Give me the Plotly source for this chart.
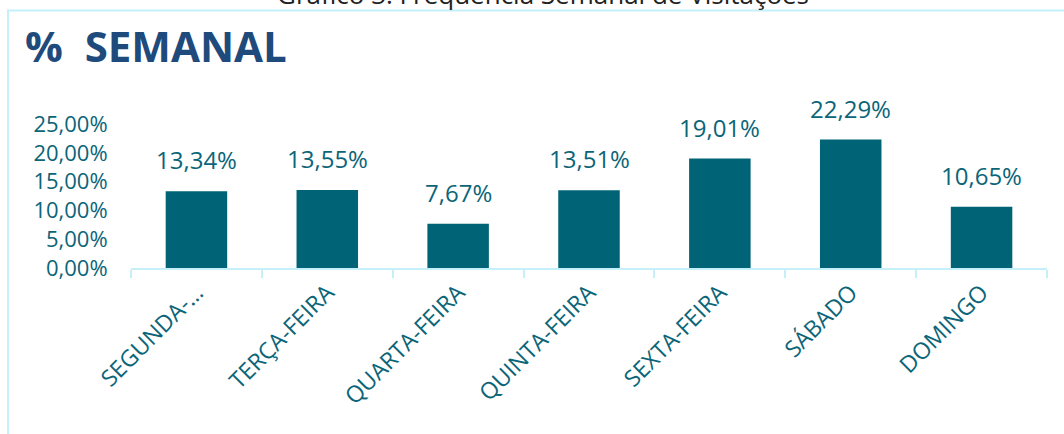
import plotly.graph_objects as go

categories = ["SEGUNDA-FEIRA", "TERÇA-FEIRA", "QUARTA-FEIRA", "QUINTA-FEIRA",
              "SEXTA-FEIRA", "SÁBADO", "DOMINGO"]
tick_labels = ["SEGUNDA-…", "TERÇA-FEIRA", "QUARTA-FEIRA", "QUINTA-FEIRA",
               "SEXTA-FEIRA", "SÁBADO", "DOMINGO"]
values = [13.34, 13.55, 7.67, 13.51, 19.01, 22.29, 10.65]
y_ticks = [0, 5, 10, 15, 20, 25]

W, H = 1064, 434
L, R, T, B = 131, 17, 124, 166
pw, ph = W - L - R, H - T - B

def px_x(x):
    return (x - L) / pw

def px_y(y):
    return (H - B - y) / ph

BAR = "#006476"
TXT = "#0b6578"
LINE = "#c6f0f9"
FONT = "Open Sans"

fig = go.Figure(go.Bar(x=categories, y=values, marker=dict(color=BAR, line=dict(width=0))))

for c, v in zip(categories, values):
    fig.add_annotation(x=c, y=v, text=f"{v:.2f}%".replace(".", ","), showarrow=False,
                       yanchor="bottom", yshift=13,
                       font=dict(family=FONT, size=24, color=TXT))

fig.add_annotation(xref="paper", yref="paper", x=px_x(23), y=px_y(45), xanchor="left",
                   yanchor="middle", text="<b>%  SEMANAL</b>", showarrow=False,
                   font=dict(family=FONT, size=42, color="#1f4a7c"))
fig.add_annotation(xref="paper", yref="paper", x=px_x(543), y=px_y(-6), xanchor="center",
                   yanchor="middle", text="Gráfico 3. Frequência Semanal de Visitações",
                   showarrow=False, font=dict(family=FONT, size=26, color="#222222"))

fig.add_shape(type="rect", xref="paper", yref="paper", x0=px_x(8), x1=px_x(1100),
              y0=px_y(480), y1=px_y(10.5), line=dict(color=LINE, width=2),
              fillcolor="rgba(0,0,0,0)", layer="below")

fig.update_layout(
    width=W, height=H, margin=dict(l=L, r=R, t=T, b=B),
    paper_bgcolor="white", plot_bgcolor="white",
    bargap=0.53, showlegend=False,
    font=dict(family=FONT, color=TXT),
)
fig.update_xaxes(tickmode="array", tickvals=categories, ticktext=tick_labels,
                 tickangle=-45, tickfont=dict(size=23, color=TXT),
                 showline=True, linecolor=LINE, linewidth=2,
                 ticks="outside", tickson="boundaries", ticklen=8, tickcolor=LINE, tickwidth=2,
                 showgrid=False)
fig.update_yaxes(range=[0, 25], tickmode="array", tickvals=y_ticks,
                 ticktext=[f"{t:.2f}%".replace(".", ",") for t in y_ticks],
                 tickfont=dict(size=22, color=TXT), showgrid=False, zeroline=False,
                 showline=False, ticks="outside", ticklen=18, tickcolor="rgba(0,0,0,0)")

fig.write_html("out.html", config={"displayModeBar": False},
               post_script="document.body.style.margin='0';")
